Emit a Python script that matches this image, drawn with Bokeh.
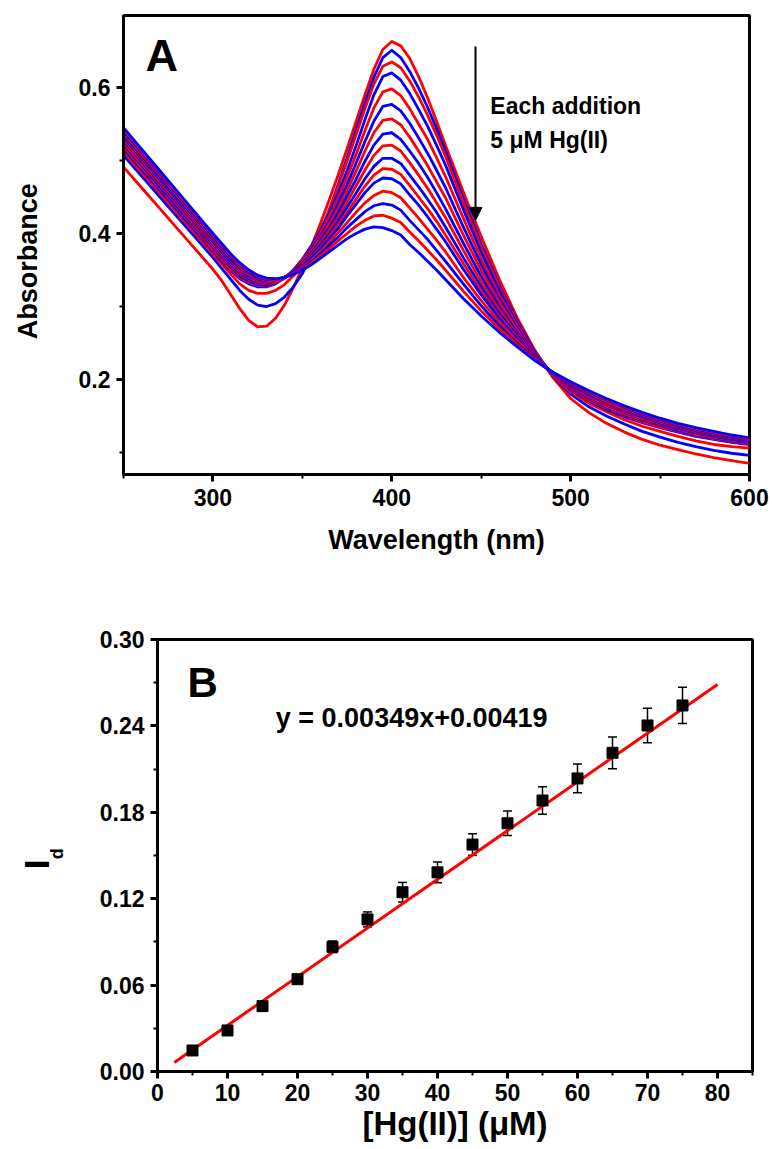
from bokeh.plotting import figure
from bokeh.models import (FixedTicker, NumeralTickFormatter, Label, Arrow, NormalHead,
                          Whisker, TeeHead, ColumnDataSource, Range1d, LinearAxis)
from bokeh.layouts import column
from bokeh.embed import file_html
from bokeh.resources import INLINE

FONT = "Liberation Sans"

# ---------------- Panel A data: UV-vis spectra (one per Hg(II) addition) ----------------
wavelength_nm = [250, 260, 270, 280, 290, 300, 305, 310, 315, 320, 325, 330, 335, 340, 345,
                 350, 355, 360, 365, 370, 375, 380, 385, 390, 395, 400, 405, 410, 415, 420,
                 425, 430, 440, 450, 460, 470, 480, 490, 500, 510, 520, 530, 540, 550, 560,
                 570, 580, 590, 600]

abs_0uM = [.491, .463, .435, .407, .379, .351, .335, .316, .297, .281, .272, .273, .284, .302, .326, .353, .382, .413, .446, .480, .516, .553, .590, .625, .652, .663, .657, .640, .615, .586, .554, .521, .457, .396, .338, .285, .240, .203, .174, .155, .140, .128, .118, .110, .104, .098, .093, .089, .085]
abs_5uM = [.507, .479, .451, .423, .395, .367, .352, .337, .322, .310, .302, .300, .304, .313, .327, .345, .370, .399, .432, .467, .504, .542, .579, .614, .641, .651, .641, .622, .599, .573, .544, .513, .448, .386, .330, .281, .238, .204, .180, .163, .150, .139, .129, .121, .114, .108, .103, .099, .096]
abs_10uM = [.512, .484, .456, .428, .400, .372, .358, .344, .331, .322, .318, .318, .322, .330, .342, .357, .378, .403, .432, .464, .499, .535, .571, .605, .629, .635, .627, .609, .587, .562, .535, .506, .442, .381, .327, .279, .237, .205, .183, .168, .156, .145, .136, .129, .122, .116, .111, .108, .106]
abs_15uM = [.516, .488, .460, .432, .404, .376, .362, .349, .338, .331, .327, .327, .331, .339, .350, .365, .383, .404, .428, .455, .486, .520, .556, .590, .615, .620, .610, .592, .570, .547, .521, .494, .433, .374, .322, .277, .237, .206, .186, .171, .159, .149, .141, .134, .128, .122, .118, .114, .111]
abs_20uM = [.519, .491, .463, .435, .407, .378, .364, .351, .340, .333, .329, .328, .332, .339, .349, .364, .380, .400, .423, .448, .477, .508, .541, .572, .594, .598, .589, .571, .550, .529, .504, .478, .421, .365, .316, .274, .236, .206, .187, .172, .161, .151, .142, .135, .129, .123, .119, .115, .112]
abs_25uM = [.522, .494, .465, .437, .409, .381, .367, .354, .342, .335, .330, .329, .332, .339, .349, .362, .378, .396, .417, .441, .467, .496, .526, .554, .574, .577, .568, .551, .531, .510, .487, .463, .409, .357, .311, .271, .235, .207, .188, .174, .162, .152, .144, .137, .130, .124, .120, .116, .113]
abs_30uM = [.524, .496, .468, .440, .411, .383, .369, .356, .344, .337, .332, .331, .333, .339, .348, .361, .376, .393, .413, .434, .459, .485, .513, .538, .555, .557, .549, .532, .513, .493, .471, .449, .398, .349, .306, .268, .234, .207, .189, .175, .163, .153, .145, .138, .132, .125, .121, .117, .114]
abs_35uM = [.527, .499, .470, .442, .414, .385, .371, .358, .346, .338, .333, .332, .334, .339, .348, .359, .373, .390, .408, .428, .451, .474, .499, .521, .536, .538, .529, .513, .496, .477, .456, .434, .387, .341, .300, .265, .233, .208, .190, .176, .165, .155, .146, .139, .133, .127, .122, .118, .114]
abs_40uM = [.529, .501, .472, .444, .416, .387, .373, .360, .348, .340, .334, .333, .334, .339, .347, .358, .371, .387, .404, .422, .443, .465, .487, .507, .520, .521, .513, .497, .480, .462, .442, .422, .377, .334, .296, .262, .232, .208, .191, .177, .166, .156, .147, .140, .134, .128, .123, .119, .115]
abs_45uM = [.532, .503, .475, .446, .418, .389, .375, .361, .350, .341, .336, .334, .335, .340, .347, .357, .369, .384, .399, .417, .436, .455, .475, .492, .503, .503, .496, .480, .464, .447, .429, .409, .367, .327, .291, .260, .231, .208, .192, .179, .167, .157, .149, .141, .134, .128, .124, .119, .116]
abs_50uM = [.534, .505, .477, .448, .419, .391, .377, .363, .351, .343, .337, .334, .335, .340, .346, .356, .367, .381, .396, .412, .429, .447, .465, .480, .489, .488, .481, .466, .450, .434, .417, .398, .359, .321, .287, .258, .230, .208, .193, .180, .168, .158, .150, .142, .135, .129, .125, .120, .117]
abs_55uM = [.535, .507, .478, .449, .421, .392, .378, .364, .353, .344, .338, .335, .336, .340, .346, .355, .366, .379, .393, .407, .424, .440, .456, .469, .476, .475, .468, .453, .439, .423, .406, .389, .351, .316, .284, .256, .230, .209, .193, .180, .169, .159, .150, .143, .136, .130, .125, .121, .117]
abs_60uM = [.538, .509, .481, .452, .423, .394, .380, .367, .355, .345, .339, .336, .336, .340, .345, .354, .363, .375, .388, .401, .415, .429, .442, .452, .458, .456, .449, .435, .421, .406, .391, .375, .340, .308, .279, .253, .229, .209, .194, .182, .170, .160, .152, .144, .137, .131, .126, .122, .118]
abs_65uM = [.540, .512, .483, .454, .425, .396, .382, .368, .357, .347, .340, .337, .337, .340, .345, .352, .361, .372, .384, .395, .408, .419, .430, .438, .441, .439, .432, .418, .405, .392, .377, .362, .331, .301, .274, .250, .228, .209, .195, .183, .172, .162, .153, .145, .138, .132, .127, .122, .119]
abs_70uM = [.543, .514, .485, .456, .427, .398, .384, .370, .358, .349, .342, .338, .337, .340, .345, .351, .359, .369, .379, .390, .400, .410, .418, .424, .425, .421, .415, .402, .390, .377, .364, .350, .321, .294, .270, .248, .227, .210, .196, .184, .173, .163, .154, .146, .139, .133, .128, .123, .119]
abs_75uM = [.545, .516, .487, .458, .429, .400, .386, .372, .360, .350, .343, .339, .338, .340, .344, .350, .357, .366, .375, .384, .393, .400, .406, .409, .408, .404, .398, .385, .374, .362, .350, .337, .311, .287, .265, .245, .226, .210, .197, .185, .174, .164, .155, .147, .140, .134, .129, .124, .120]

spectra = [abs_0uM, abs_5uM, abs_10uM, abs_15uM, abs_20uM, abs_25uM, abs_30uM, abs_35uM,
           abs_40uM, abs_45uM, abs_50uM, abs_55uM, abs_60uM, abs_65uM, abs_70uM, abs_75uM]
spectrum_colors = ["#ff0000", "#0000ff"]

# ---------------- Panel B data: calibration plot ----------------
hg_conc_uM = [5, 10, 15, 20, 25, 30, 35, 40, 45, 50, 55, 60, 65, 70, 75]
id_mean = [0.0146, 0.0285, 0.0454, 0.0641, 0.0866, 0.1056, 0.1245, 0.1383, 0.1576,
           0.1724, 0.1882, 0.2035, 0.2213, 0.2403, 0.2542]
id_err = [0.0020, 0.0020, 0.0022, 0.0025, 0.0040, 0.0052, 0.0068, 0.0072, 0.0075,
          0.0085, 0.0096, 0.0100, 0.0110, 0.0120, 0.0126]
fit_x = [2.4, 80.0]
fit_y = [0.0063, 0.2688]


def style(p, xticks, xminor, yticks, yminor, yfmt):
    p.grid.visible = False
    p.outline_line_color = "black"
    p.outline_line_width = 3
    p.xaxis.ticker = FixedTicker(ticks=xticks, minor_ticks=xminor)
    p.yaxis.ticker = FixedTicker(ticks=yticks, minor_ticks=yminor)
    p.yaxis.formatter = NumeralTickFormatter(format=yfmt)
    for ax in (p.xaxis, p.yaxis):
        ax.axis_line_width = 3
        ax.axis_line_color = "black"
        ax.major_tick_line_width = 3
        ax.minor_tick_line_width = 2
        ax.major_tick_in = 0
        ax.major_tick_out = 7
        ax.minor_tick_in = 0
        ax.minor_tick_out = 4
        ax.major_label_text_font = FONT
        ax.major_label_text_font_style = "bold"
        ax.major_label_text_font_size = "23px"
        ax.major_label_text_color = "black"
        ax.axis_label_text_font = FONT
        ax.axis_label_text_font_style = "bold"
        ax.axis_label_text_color = "black"


def label(p, x, y, text, size):
    p.add_layout(Label(x=x, y=y, text=text, text_font=FONT, text_font_style="bold",
                       text_font_size=size, text_color="black"))


# ---------------- Panel A ----------------
pA = figure(width=772, height=590, x_range=Range1d(250, 600), y_range=Range1d(0.0699, 0.6986),
            min_border_left=123, min_border_right=23, min_border_top=15, min_border_bottom=116,
            output_backend="svg", toolbar_location=None)
pA.frame_align = False
style(pA, [300, 400, 500, 600], [250, 350, 450, 550], [0.2, 0.4, 0.6], [0.1, 0.3, 0.5], "0.0")
pA.xaxis.major_label_standoff = 7
pA.yaxis.major_label_standoff = 6
pA.xaxis.axis_label = "Wavelength (nm)"
pA.yaxis.axis_label = "Absorbance\u2003\u2009"
pA.xaxis.axis_label_text_font_size = "27px"
pA.yaxis.axis_label_text_font_size = "27px"
pA.xaxis.axis_label_standoff = 16
pA.yaxis.axis_label_standoff = 33

for i, spec in enumerate(spectra):
    pA.line(wavelength_nm, spec, line_color=spectrum_colors[i % 2], line_width=2.8,
            line_join="round")

label(pA, 262.3, 0.6082, "A", "45px")
label(pA, 455.1, 0.5568, "Each addition", "23px")
label(pA, 455.1, 0.5102, "5 \u03bcM Hg(II)", "23px")
pA.add_layout(Arrow(end=NormalHead(size=13, fill_color="black", line_color="black"),
                    x_start=446.8, y_start=0.656, x_end=446.8, y_end=0.418,
                    line_width=2, line_color="black"))

# ---------------- Panel B ----------------
pB = figure(width=772, height=559, x_range=Range1d(0, 85), y_range=Range1d(0, 0.30),
            min_border_left=157, min_border_right=20, min_border_top=49, min_border_bottom=78,
            output_backend="svg", toolbar_location=None)
pB.frame_align = False
style(pB, list(range(0, 81, 10)), list(range(5, 86, 10)),
      [0.0, 0.06, 0.12, 0.18, 0.24, 0.30], [0.03, 0.09, 0.15, 0.21, 0.27], "0.00")
pB.xaxis.major_label_standoff = 5
pB.yaxis.major_label_standoff = 6
pB.xaxis.axis_label = "[Hg(II)] (\u03bcM)"
pB.xaxis.axis_label_text_font_size = "33px"
pB.xaxis.axis_label_standoff = 1
# y-axis title "I" with subscript "d": subscript as the inner label, "I" on an outer axis
pB.yaxis.axis_label = "\u2009d"
pB.yaxis.axis_label_text_font_size = "18px"
pB.yaxis.axis_label_standoff = 30
i_axis = LinearAxis(ticker=FixedTicker(ticks=[]), axis_label="I\u2002",
                    axis_line_color=None, major_tick_line_color=None,
                    minor_tick_line_color=None, major_tick_out=0, minor_tick_out=0,
                    major_label_standoff=0, major_label_text_font_size="0px",
                    axis_label_standoff=-12, axis_label_text_font=FONT,
                    axis_label_text_font_style="bold", axis_label_text_font_size="35px",
                    axis_label_text_color="black")
pB.add_layout(i_axis, "left")

src = ColumnDataSource(dict(x=hg_conc_uM, y=id_mean,
                            upper=[m + e for m, e in zip(id_mean, id_err)],
                            lower=[m - e for m, e in zip(id_mean, id_err)]))
pB.add_layout(Whisker(source=src, base="x", upper="upper", lower="lower",
                      line_color="black", line_width=1.5,
                      upper_head=TeeHead(size=9, line_width=1.5, line_color="black"),
                      lower_head=TeeHead(size=9, line_width=1.5, line_color="black")))
pB.line(fit_x, fit_y, line_color="#ff0000", line_width=3)
pB.scatter("x", "y", source=src, marker="square", size=11, fill_color="black",
           line_color="black")

label(pB, 4.3, 0.2535, "B", "42px")
label(pB, 16.9, 0.2354, "y = 0.00349x+0.00419", "27px")

layout = column(pA, pB, spacing=0)
open("out.html", "w").write(file_html(layout, INLINE))
